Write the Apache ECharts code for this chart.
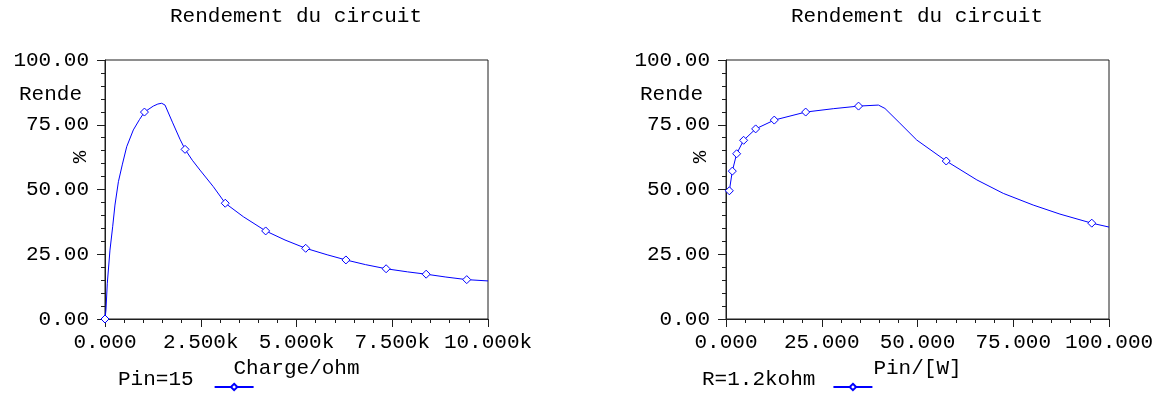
<!DOCTYPE html>
<html>
<head>
<meta charset="utf-8">
<script src="https://cdn.jsdelivr.net/npm/echarts@6/dist/echarts.min.js"></script>
<style>
  html, body { margin: 0; padding: 0; background: #fff; }
  #chart { width: 1160px; height: 400px; }
</style>
</head>
<body>
<div id="chart"></div>
<script>
// Efficiency vs. load resistance (Pin = 15 W): sampled curve points
const loadCurveX = [25, 60, 130, 200, 260, 350, 450, 566, 740, 900, 1261, 1380, 1480, 1567, 1760, 1958, 2280, 2480, 2828, 3611, 4700, 5800, 6800, 7900, 8900, 10000];
const loadCurveY = [3.5, 13.8, 26.6, 35.6, 44.0, 53.0, 59.5, 66.5, 73.0, 77.0, 82.2, 83.0, 83.3, 82.6, 76.0, 69.4, 61.3, 57.5, 51.1, 39.5, 30.5, 24.8, 21.0, 18.2, 16.2, 14.7];
// Marked points on the same curve
const loadMarkX = [0, 1030, 2090, 3140, 4195, 5240, 6290, 7340, 8385, 9445];
const loadMarkY = [0, 79.9, 65.5, 44.7, 34.0, 27.3, 22.8, 19.4, 17.3, 15.2];

// Efficiency vs. input power (R = 1.2 kohm)
const powerCurveX = [28, 39.8, 41.5, 45.4, 49.8, 65.5, 72.4, 80.2, 87.2, 100];
const powerCurveY = [81.2, 82.6, 81.3, 75.6, 69.1, 53.7, 48.5, 44.0, 40.5, 35.5];
const powerMarkX = [0.87, 1.65, 2.78, 4.6, 7.74, 12.6, 20.8, 34.6, 57.5, 95.5];
const powerMarkY = [49.5, 57.1, 63.8, 69.0, 73.4, 76.8, 79.9, 82.2, 61.0, 37.0];

// Tick labels
const loadTicks = ['0.000', '2.500k', '5.000k', '7.500k', '10.000k'];
const powerTicks = ['0.000', '25.000', '50.000', '75.000', '100.000'];
const effTicks = ['0.00', '25.00', '50.00', '75.00', '100.00'];

const seriesNames = ['Pin=15', 'R=1.2kohm'];
const titleText = 'Rendement du circuit';
const axisNames = ['Charge/ohm', 'Pin/[W]'];

const FONT = 'Liberation Mono';
const INK = '#1e1e1e';
const BLUE = '#0000ff';

function buildData(cx, cy, mx, my) {
  const pts = [];
  cx.forEach((x, i) => pts.push({ value: [x, cy[i]], symbol: 'none' }));
  mx.forEach((x, i) => pts.push({ value: [x, my[i]] }));
  pts.sort((a, b) => a.value[0] - b.value[0]);
  return pts;
}

const textBase = { fontFamily: FONT, fontSize: 21, color: '#000' };

function xAxisFor(gridIndex, max, interval, ticks, name) {
  return {
    type: 'value', gridIndex, min: 0, max, interval,
    name, nameLocation: 'middle', nameGap: 36,
    nameTextStyle: { ...textBase },
    axisLine: { lineStyle: { color: INK, width: 1 } },
    axisTick: { length: 8, lineStyle: { color: INK } },
    minorTick: { show: true, splitNumber: 5, length: 4, lineStyle: { color: INK } },
    splitLine: { show: false },
    axisLabel: { ...textBase, margin: 13, formatter: v => ticks[Math.round(v / interval)] }
  };
}

function yAxisFor(gridIndex) {
  return {
    type: 'value', gridIndex, min: 0, max: 100, interval: 25,
    axisLine: { show: true, lineStyle: { color: INK, width: 1 } },
    axisTick: { show: true, length: 8, lineStyle: { color: INK } },
    minorTick: { show: true, splitNumber: 5, length: 4, lineStyle: { color: INK } },
    splitLine: { show: false },
    axisLabel: { ...textBase, margin: 16, formatter: v => effTicks[Math.round(v / 25)] }
  };
}

function lineSeries(name, idx, data) {
  return {
    name, type: 'line', xAxisIndex: idx, yAxisIndex: idx,
    data, showAllSymbol: true, symbol: 'diamond', symbolSize: 8,
    smooth: false,
    lineStyle: { color: BLUE, width: 1 },
    itemStyle: { color: '#fff', borderColor: BLUE, borderWidth: 1 },
    emphasis: { disabled: true },
    animation: false
  };
}

// Legend text sits a little above the icon line
function legendFor(name, left, gapPad) {
  return {
    data: [name], left, top: 369, align: 'right',
    itemWidth: 39, itemHeight: 8, padding: 0,
    formatter: n => '{t|' + n + '}',
    textStyle: {
      ...textBase, padding: [0, gapPad, 0, 0],
      rich: { t: { ...textBase, lineHeight: 36, verticalAlign: 'top' } }
    },
    selectedMode: false
  };
}

const grids = [
  { left: 105, right: 672, top: 60, bottom: 81 },
  { left: 726, right: 51, top: 60, bottom: 81 }
];

const labelFont = '21px "Liberation Mono"';

const option = {
  animation: false,
  title: [
    { text: titleText, left: 296, top: 6, padding: 0, textAlign: 'center', textStyle: { ...textBase, fontWeight: 'normal' } },
    { text: titleText, left: 917, top: 6, padding: 0, textAlign: 'center', textStyle: { ...textBase, fontWeight: 'normal' } }
  ],
  grid: grids.map(g => ({ ...g, show: true, borderColor: INK, borderWidth: 1, backgroundColor: 'transparent' })),
  xAxis: [
    xAxisFor(0, 10000, 2500, loadTicks, axisNames[0]),
    xAxisFor(1, 100, 25, powerTicks, axisNames[1])
  ],
  yAxis: [yAxisFor(0), yAxisFor(1)],
  legend: [
    legendFor(seriesNames[0], 118, 16),
    legendFor(seriesNames[1], 702, 13)
  ],
  graphic: [
    { type: 'text', left: 19, top: 84, style: { text: 'Rende', font: labelFont, fill: '#000' } },
    { type: 'text', x: 80, y: 157, rotation: Math.PI / 2, style: { text: '%', font: labelFont, fill: '#000', align: 'center', verticalAlign: 'middle' } },
    { type: 'text', left: 640, top: 84, style: { text: 'Rende', font: labelFont, fill: '#000' } },
    { type: 'text', x: 700, y: 157, rotation: Math.PI / 2, style: { text: '%', font: labelFont, fill: '#000', align: 'center', verticalAlign: 'middle' } }
  ],
  series: [
    lineSeries(seriesNames[0], 0, buildData(loadCurveX, loadCurveY, loadMarkX, loadMarkY)),
    lineSeries(seriesNames[1], 1, buildData(powerCurveX, powerCurveY, powerMarkX, powerMarkY))
  ]
};

const chart = echarts.init(document.getElementById('chart'), null, { renderer: 'canvas' });
chart.setOption(option);
</script>
</body>
</html>
